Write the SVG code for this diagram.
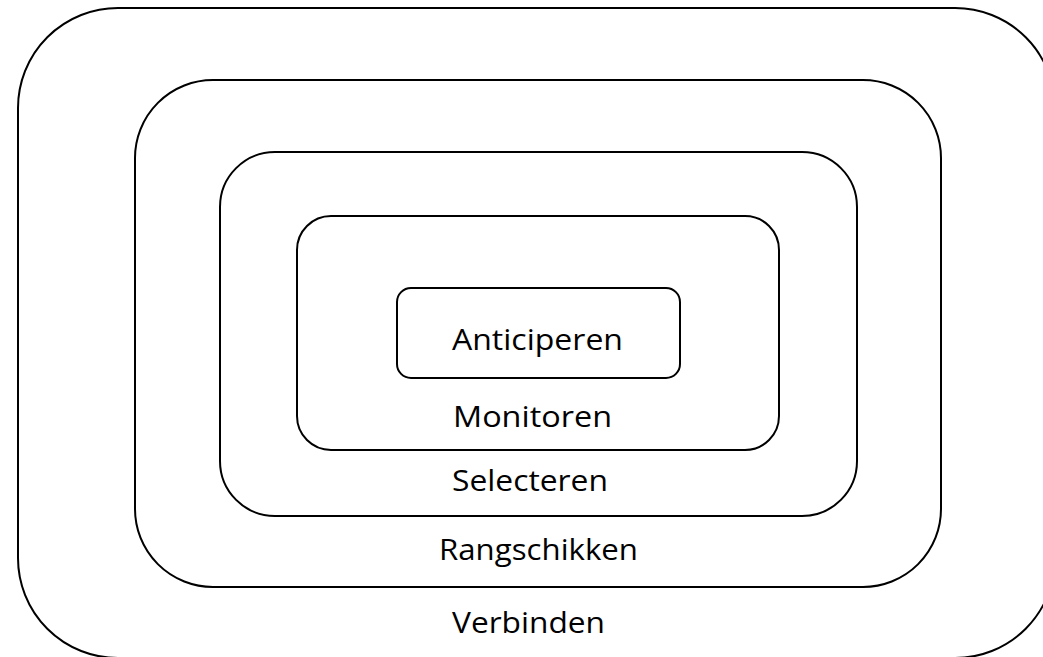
<svg xmlns="http://www.w3.org/2000/svg" width="1043" height="657" viewBox="0 0 1043 657">
<style>
.box{fill:none;stroke:#000;stroke-width:2}
.lbl{font-family:"Open Sans","Liberation Sans",sans-serif;font-size:30px;fill:#000}
</style>
<rect width="1043" height="657" fill="#fff"/>
<g id="verbinden">
<rect class="box" x="18" y="8" width="1037" height="650" rx="100" ry="100" stroke-width="2.3"/>
<text class="lbl" x="452" y="633" textLength="153" lengthAdjust="spacingAndGlyphs">Verbinden</text>
</g>
<g id="rangschikken">
<rect class="box" x="135" y="80" width="806" height="507" rx="78" ry="78"/>
<text class="lbl" x="439" y="560" textLength="199" lengthAdjust="spacingAndGlyphs">Rangschikken</text>
</g>
<g id="selecteren">
<rect class="box" x="220" y="152" width="637" height="364" rx="55" ry="55"/>
<text class="lbl" x="452" y="491" textLength="156" lengthAdjust="spacingAndGlyphs">Selecteren</text>
</g>
<g id="monitoren">
<rect class="box" x="297" y="216" width="482" height="234" rx="34" ry="34"/>
<text class="lbl" x="453" y="427" textLength="159" lengthAdjust="spacingAndGlyphs">Monitoren</text>
</g>
<g id="anticiperen">
<rect class="box" x="397" y="288" width="283" height="90" rx="14" ry="14"/>
<text class="lbl" x="452" y="350" textLength="171" lengthAdjust="spacingAndGlyphs">Anticiperen</text>
</g>
<g id="connectors"></g>
</svg>
